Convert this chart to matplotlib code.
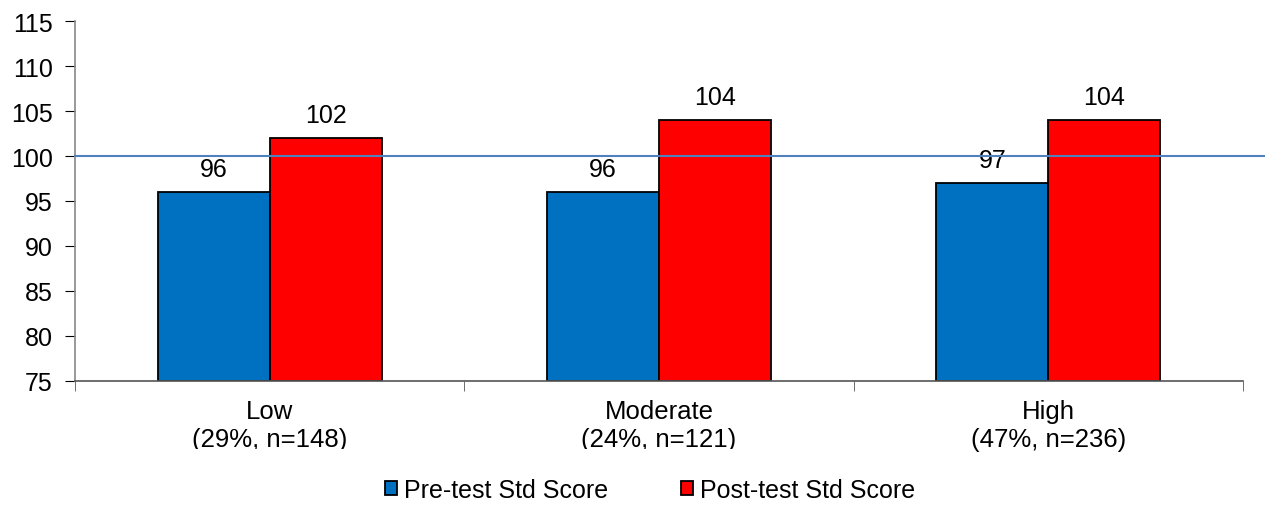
import matplotlib.pyplot as plt
import numpy as np
from matplotlib.transforms import Bbox, offset_copy

plt.rcParams['font.family'] = ['Liberation Sans', 'DejaVu Sans']

categories = ["Low\n(29%, n=148)", "Moderate\n(24%, n=121)", "High\n(47%, n=236)"]
pre_scores = [96, 96, 97]
post_scores = [102, 104, 104]
series_names = ["Pre-test Std Score", "Post-test Std Score"]
reference_score = 100

fig = plt.figure(figsize=(12.65, 5.06), dpi=100)
ax = fig.add_axes([75 / 1265, 1 - 382 / 506, 1168 / 1265, 360 / 506])

x = np.arange(len(categories))
w = 0.288
b1 = ax.bar(x - w / 2, np.array(pre_scores) - 75, w, bottom=75, color="#0070C0",
            edgecolor="black", linewidth=1.3, label=series_names[0], zorder=2)
b2 = ax.bar(x + w / 2, np.array(post_scores) - 75, w, bottom=75, color="#FF0000",
            edgecolor="black", linewidth=1.3, label=series_names[1], zorder=2)

for bars, vals in [(b1, pre_scores), (b2, post_scores)]:
    for r, v in zip(bars, vals):
        ax.annotate(str(v), (r.get_x() + r.get_width() / 2, v), xytext=(0, 8),
                    textcoords="offset points", ha="center", va="bottom", fontsize=18)

# reference line runs past the plot area to the figure edge
ax.axhline(reference_score, xmin=0, xmax=(1265 - 75) / 1168, color="#4F81BD",
           linewidth=1.5, clip_on=False, zorder=3)

ax.set_xlim(-0.5, len(categories) - 0.5)
ax.set_ylim(75, 115)
ax.set_yticks(range(75, 116, 5))
ax.set_xticks(x)
ax.set_xticklabels([])
ax.set_xticks(np.arange(-0.5, len(categories), 1), minor=True)
ax.tick_params(axis="x", which="major", length=0)
ax.tick_params(axis="x", which="minor", length=7, direction="out", color="#555555")
ax.tick_params(axis="y", length=7, direction="out", labelsize=18, pad=9, color="black")

# category labels as text so the first two can be cut off like in the original
clip = Bbox.from_extents(0, 506 - 450, 1265, 506)
lbl_tr = offset_copy(ax.get_xaxis_transform(), fig=fig, x=0, y=-13, units="points")
for i, cat in enumerate(categories):
    t = ax.text(i, 0, cat, transform=lbl_tr, ha="center", va="top",
                fontsize=18.5, linespacing=1.2)
    if i < 2:
        t.set_clip_box(clip)
        t.set_clip_on(True)
    else:
        t.set_clip_on(False)

for s in ["top", "right"]:
    ax.spines[s].set_visible(False)
ax.spines["left"].set_color("#888888")
ax.spines["bottom"].set_color("#555555")
ax.spines["left"].set_linewidth(1.2)
ax.spines["bottom"].set_linewidth(1.2)

fig.legend(handles=[b1, b2], loc="center", bbox_to_anchor=(650 / 1265, 1 - 491 / 506), ncol=2,
           frameon=False, fontsize=18, handlelength=0.48, handleheight=0.48,
           handletextpad=0.3, columnspacing=2.9, borderpad=0)

fig.savefig("out.png", dpi=100)
